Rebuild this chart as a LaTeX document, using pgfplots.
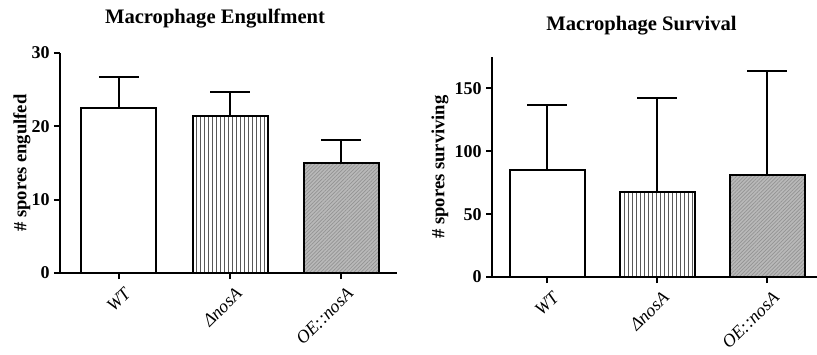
\documentclass[border=0pt]{standalone}
\usepackage{pgfplots}
\pgfplotsset{compat=1.18}
\usetikzlibrary{patterns.meta}
\usepackage{fontspec}
\setmainfont{Liberation Serif}
\pgfplotsset{
  mybar/.style={
    scale only axis,
    axis lines=left,
    axis line style={line width=1pt,-},
    ybar, bar width=37.5pt,
    xtick={0,1,2},
    xticklabels={WT,ΔnosA,OE::nosA},
    x tick label style={rotate=45, anchor=north east, font=\fontsize{9}{10}\selectfont\itshape, inner sep=1pt, yshift=-3pt},
    y tick label style={font=\fontsize{9}{10}\selectfont\bfseries, inner sep=2pt},
    /pgf/number format/assume math mode=true,
    tick align=outside, major tick length=3pt,
    tick style={line width=1pt, black},
    ymin=0, enlargelimits=false,
    title style={font=\fontsize{10.3}{12}\selectfont\bfseries, anchor=center, yshift=0pt},
    ylabel style={font=\fontsize{9.3}{11}\selectfont\bfseries, anchor=center},
    error bars/y dir=plus, error bars/y explicit,
    error bars/error bar style={line width=1pt, black},
    error bars/error mark options={rotate=90, mark size=10pt, line width=1pt, black},
  },
  barWT/.style={draw=black, line width=1pt, fill=white, bar shift=0pt},
  barD/.style={draw=black, line width=1pt, fill=white, bar shift=0pt,
    postaction={pattern={Lines[angle=90,distance=2pt,line width=0.35pt]}, pattern color=black!65}},
  barOE/.style={draw=black, line width=1pt, fill=gray!55, bar shift=0pt,
    postaction={pattern={Lines[angle=45,distance=1.3pt,line width=0.35pt]}, pattern color=gray!85}},
}
\begin{document}
\begin{tikzpicture}
\useasboundingbox (-30pt,-40.5pt) rectangle (378.5pt,136.5pt);
\begin{axis}[mybar,
  at={(0pt,0pt)}, anchor=south west,
  width=168.5pt, height=110pt,
  xmin=-0.53, xmax=2.5, ymax=30,
  ytick={0,10,20,30},
  title={Macrophage Engulfment}, title style={at={(axis description cs:0.46,1.10)}},
  ylabel={\# spores engulfed}, ylabel style={at={(axis description cs:-0.113,0.5)}},
]
\addplot[barWT] coordinates {(0,22.5) +- (0,4.2)};
\addplot[barD] coordinates {(1,21.4) +- (0,3.3)};
\addplot[barOE] coordinates {(2,15.0) +- (0,3.1)};
\end{axis}
\begin{axis}[mybar,
  at={(216pt,-2pt)}, anchor=south west,
  width=162.5pt, height=110pt,
  xmin=-0.5, xmax=2.45, ymax=175,
  ytick={0,50,100,150},
  title={Macrophage Survival}, title style={at={(axis description cs:0.46,1.09)}},
  ylabel={\# spores surviving}, ylabel style={at={(axis description cs:-0.16,0.5)}},
]
\addplot[barWT] coordinates {(0,85) +- (0,52)};
\addplot[barD] coordinates {(1,68) +- (0,74)};
\addplot[barOE] coordinates {(2,81.5) +- (0,82)};
\end{axis}
\end{tikzpicture}
\end{document}
